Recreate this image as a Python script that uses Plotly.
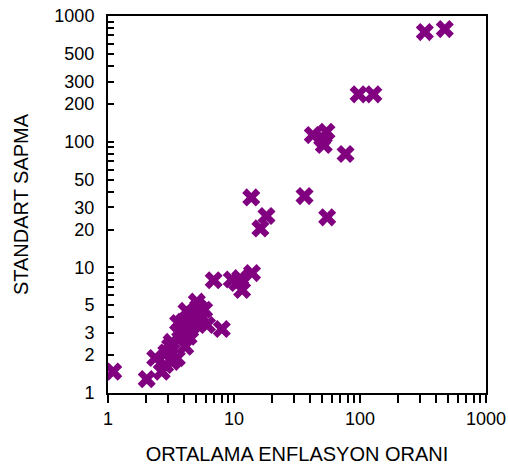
import plotly.graph_objects as go

inflation = [1.10, 2.03, 2.37, 2.67, 2.84, 3.11, 3.21, 3.52, 3.74, 3.97, 4.36, 4.10, 4.49,
             5.07, 5.40, 5.57, 5.07, 6.10, 8.0, 6.9, 9.6, 11.2, 11.6, 13.9, 10.6,
             3.6, 3.2, 4.6, 5.2, 2.9, 4.3, 4.2, 4.7, 3.9, 5.8,
             13.7, 36.3, 54.9, 18.1, 16.2, 42.2, 54.2, 50.1, 51.6, 76.8,
             97.5, 127.6, 327, 471]
std_dev = [1.48, 1.29, 1.90, 1.48, 1.67, 2.34, 1.77, 1.89, 3.17, 3.69, 2.80, 2.34, 3.17,
           5.33, 4.57, 4.05, 3.69, 3.48, 3.23, 7.9, 8.0, 8.2, 6.6, 9.0, 7.5,
           3.6, 2.55, 4.2, 4.8, 2.1, 3.3, 4.5, 3.5, 2.9, 4.6,
           36, 36.9, 25, 25.6, 20.4, 112.8, 119.9, 106.3, 94, 79.7,
           238, 238, 745, 787]

x_ticks = [1, 10, 100, 1000]
y_ticks = [1, 2, 3, 5, 10, 20, 30, 50, 100, 200, 300, 500, 1000]
minor_vals = [m * d for d in (1, 10, 100) for m in range(2, 10)]
y_minor = [v for v in minor_vals if v not in y_ticks]

fig = go.Figure(go.Scatter(
    x=inflation, y=std_dev, mode="markers",
    marker=dict(symbol="x", size=16, color="#800080", line=dict(width=0)),
))

tick_font = dict(family="Liberation Sans, Arial, sans-serif", size=18, color="black")
title_font = dict(family="Liberation Sans, Arial, sans-serif", size=20, color="black")

fig.update_layout(
    width=508, height=465,
    margin=dict(l=108, r=22, t=16, b=72, autoexpand=False),
    paper_bgcolor="white", plot_bgcolor="white",
    showlegend=False,
    font=tick_font,
)
fig.update_xaxes(
    type="log", range=[0, 3], automargin=False,
    tickmode="array", tickvals=x_ticks, ticktext=[str(v) for v in x_ticks],
    ticks="outside", ticklen=8, tickwidth=1.5, tickcolor="black",
    minor=dict(tickmode="array", tickvals=minor_vals, ticks="outside", ticklen=8,
               tickwidth=1.5, tickcolor="black", showgrid=False),
    showgrid=False, zeroline=False,
    showline=True, linecolor="black", linewidth=2, mirror=True,
    title=dict(text="ORTALAMA ENFLASYON ORANI", standoff=20, font=title_font),
    tickfont=tick_font,
)
fig.update_yaxes(
    type="log", range=[0, 3], automargin=False,
    tickmode="array", tickvals=y_ticks, ticktext=[str(v) for v in y_ticks],
    ticks="inside", ticklen=6, tickwidth=1.5, tickcolor="black",
    minor=dict(tickmode="array", tickvals=y_minor, ticks="inside", ticklen=6,
               tickwidth=1.5, tickcolor="black", showgrid=False),
    ticklabelstandoff=8,
    showgrid=False, zeroline=False,
    showline=True, linecolor="black", linewidth=2, mirror=True,
    title=dict(text="STANDART SAPMA", standoff=20, font=title_font),
    tickfont=tick_font,
)

fig.write_html("out.html")
